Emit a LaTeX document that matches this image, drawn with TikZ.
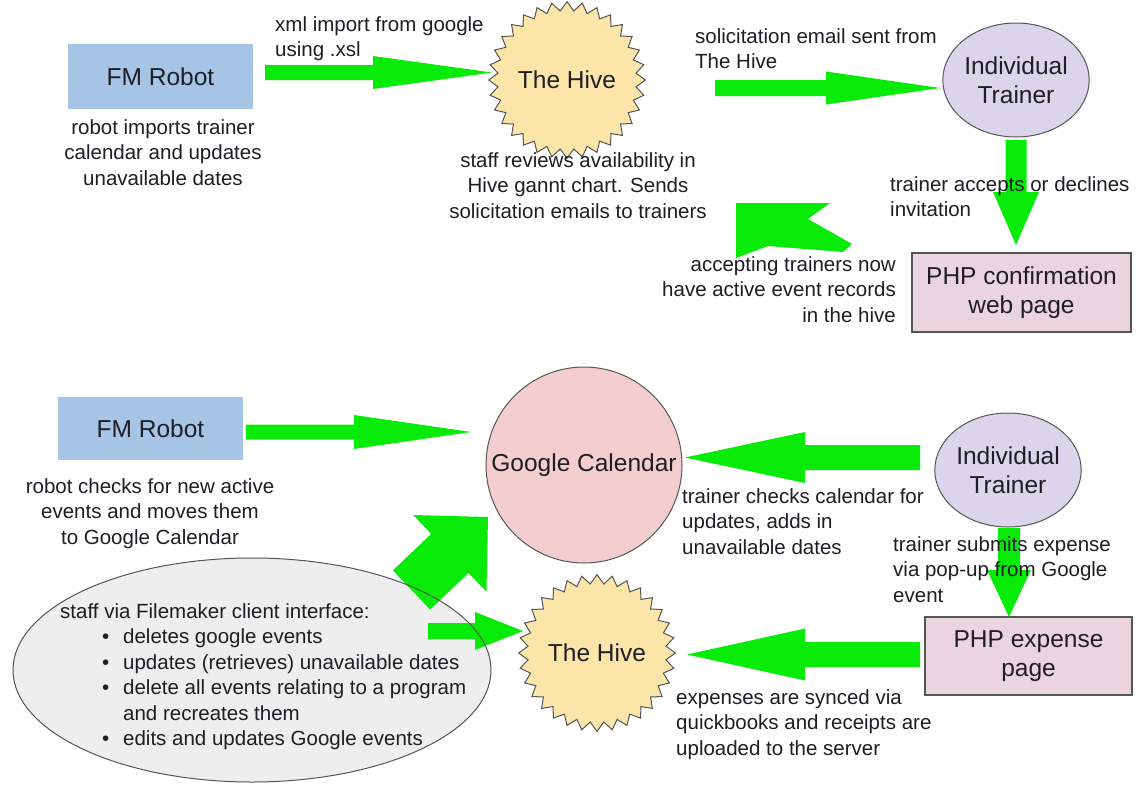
\documentclass[tikz,border=0pt]{standalone}
\usepackage{fontspec}
\setmainfont{Liberation Sans}
\usetikzlibrary{shapes.geometric,calc}
\definecolor{agreen}{RGB}{8,234,8}
\definecolor{robotfill}{RGB}{166,196,230}
\definecolor{hivefill}{RGB}{252,229,168}
\definecolor{trainerfill}{RGB}{218,213,235}
\definecolor{phpfill}{RGB}{234,213,222}
\definecolor{gcfill}{RGB}{244,206,206}
\definecolor{stafffill}{RGB}{238,238,238}
\definecolor{edgegray}{RGB}{85,85,85}
\definecolor{ink}{RGB}{30,30,36}
\newcommand{\blockarrow}[5]{%
 \fill[agreen] ($(#1)!#3!90:(#2)$) -- ($(#2)!#5!(#1)!#3!-90:(#1)$) -- ($(#2)!#5!(#1)!#4!-90:(#1)$) -- (#2) -- ($(#2)!#5!(#1)!#4!90:(#1)$) -- ($(#2)!#5!(#1)!#3!90:(#1)$) -- ($(#1)!#3!-90:(#2)$) -- cycle;}
\tikzset{
 title/.style={font=\fontsize{24.5}{29}\selectfont, text=ink, align=center},
 lbl/.style={font=\fontsize{20.5}{25.5}\selectfont, text=ink, inner sep=0pt},
 robotbox/.style={rectangle, fill=robotfill, inner sep=0pt},
 phpbox/.style={rectangle, fill=phpfill, draw=edgegray, line width=1.1pt, inner sep=0pt},
 trainer/.style={ellipse, fill=trainerfill, draw=edgegray, line width=1pt, inner sep=0pt},
 hive/.style={star, star points=32, star point ratio=1.13, fill=hivefill, draw=edgegray, line width=1pt, minimum size=132pt, inner sep=0pt},
 gcal/.style={circle, fill=gcfill, draw=edgegray, line width=1pt, inner sep=0pt, minimum size=196pt},
}
\begin{document}
\begin{tikzpicture}[x=1pt,y=-1pt]
\useasboundingbox (0,0) rectangle (1138,790);
\fill[white] (0,0) rectangle (1138,790);
% staff ellipse fill (outline drawn later over arrows)
\node[ellipse, fill=stafffill, minimum width=478pt, minimum height=224pt, inner sep=0pt] (staff) at (252,670) {};
% top row shapes
\node[robotbox, title, minimum width=185pt, minimum height=65pt] (robot1) at (160.5,76.5) {FM Robot};
\node[hive, title] (hive1) at (567,80) {The Hive};
\node[trainer, title, minimum width=146pt, minimum height=114pt] (it1) at (1016,80) {Individual\\Trainer};
\node[phpbox, title, minimum width=219pt, minimum height=79pt] (php1) at (1021.5,292.5) {PHP confirmation\\web page};
% bottom row shapes
\node[robotbox, title, minimum width=185pt, minimum height=63pt] (robot2) at (150.5,428.5) {FM Robot};
\node[gcal, title] (gc) at (584,465) {Google Calendar};
\node[trainer, title, minimum width=146pt, minimum height=114pt] (it2) at (1008,470) {Individual\\Trainer};
\node[phpbox, title, minimum width=207pt, minimum height=78pt] (php2) at (1028.5,656) {PHP expense\\page};
\node[hive, title] (hive2) at (597,653) {The Hive};
% arrows
\coordinate (a1s) at (265,72.5); \coordinate (a1e) at (492,72.5);
\blockarrow{a1s}{a1e}{7.5pt}{16.5pt}{119pt}
\coordinate (a2s) at (715,88); \coordinate (a2e) at (940,88);
\blockarrow{a2s}{a2e}{8pt}{16.5pt}{114pt}
\coordinate (a3s) at (1016,140); \coordinate (a3e) at (1016,245);
\blockarrow{a3s}{a3e}{10.5pt}{23pt}{53pt}
\coordinate (u1) at (736,203); \coordinate (u2) at (830,203); \coordinate (u3) at (808,219);
\coordinate (u4) at (852,244); \coordinate (u5) at (843,252); \coordinate (u6) at (768,246);
\coordinate (u7) at (736,258);
\fill[agreen] (u1) -- (u2) -- (u3) -- (u4) -- (u5) -- (u6) -- (u7) -- cycle;
\coordinate (a5s) at (246,432); \coordinate (a5e) at (471,432);
\blockarrow{a5s}{a5e}{7.5pt}{17pt}{117pt}
\coordinate (a6s) at (920,457.5); \coordinate (a6e) at (685,457.5);
\blockarrow{a6s}{a6e}{12.5pt}{25.5pt}{120pt}
\coordinate (a7s) at (1009,528); \coordinate (a7e) at (1009,617);
\blockarrow{a7s}{a7e}{11pt}{22pt}{47pt}
\coordinate (a8s) at (920,654.5); \coordinate (a8e) at (687,654.5);
\blockarrow{a8s}{a8e}{12.5pt}{26pt}{118pt}
\coordinate (a9s) at (411.5,590); \coordinate (a9e) at (488,517);
\blockarrow{a9s}{a9e}{27pt}{53pt}{52.7pt}
\coordinate (a10s) at (428,631); \coordinate (a10e) at (523,631);
\blockarrow{a10s}{a10e}{8pt}{19pt}{48pt}
% staff ellipse outline over arrows
\draw[edgegray, line width=1pt] (staff.center) ellipse [x radius=239pt, y radius=112pt];
% labels (anchor base = baseline of the last line)
\node[lbl, align=center, anchor=base] (l1) at (163,185) {robot imports trainer\\calendar and updates\\unavailable dates};
\node[lbl, align=left, anchor=base west] (l2) at (275,56.5) {xml import from google\\using .xsl};
\node[lbl, align=center, anchor=base] (l3) at (578,218) {staff reviews availability in\\Hive gannt chart. Sends\\solicitation emails to trainers};
\node[lbl, align=left, anchor=base west] (l4) at (695,68.5) {solicitation email sent from\\The Hive};
\node[lbl, align=left, anchor=base west] (l5) at (890,216.5) {trainer accepts or declines\\invitation};
\node[lbl, align=right, anchor=base east] (l6) at (896,322) {accepting trainers now\\have active event records\\in the hive};
\node[lbl, align=center, anchor=base] (l7) at (150,544) {robot checks for new active\\events and moves them\\to Google Calendar};
\node[lbl, align=left, anchor=base west] (l8) at (682,554) {trainer checks calendar for\\updates, adds in\\unavailable dates};
\node[lbl, align=left, anchor=base west] (l9) at (893,602) {trainer submits expense\\via pop-up from Google\\event};
\node[lbl, align=left, anchor=base west] (l10) at (676,755) {expenses are synced via\\quickbooks and receipts are\\uploaded to the server};
\node[lbl, align=left, anchor=base west] (stafftext) at (60,745.5) {staff via Filemaker client interface:\\
\hspace*{42pt}\makebox[21pt][l]{\textbullet}deletes google events\\
\hspace*{42pt}\makebox[21pt][l]{\textbullet}updates (retrieves) unavailable dates\\
\hspace*{42pt}\makebox[21pt][l]{\textbullet}delete all events relating to a program\\
\hspace*{63pt}and recreates them\\
\hspace*{42pt}\makebox[21pt][l]{\textbullet}edits and updates Google events};
\end{tikzpicture}
\end{document}
